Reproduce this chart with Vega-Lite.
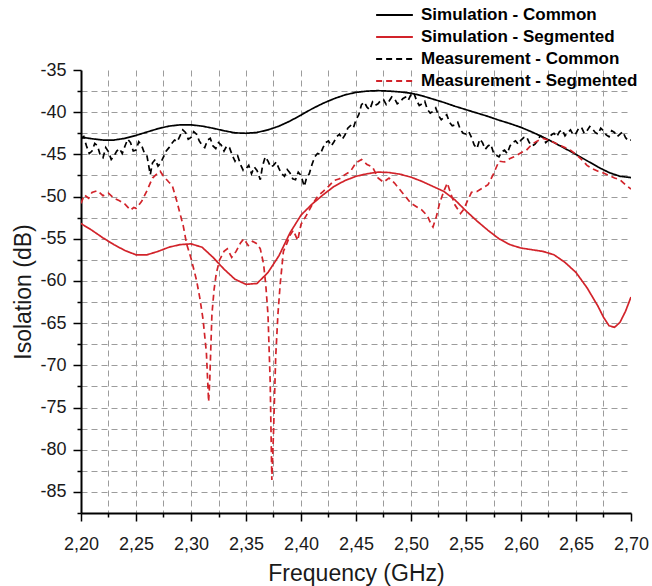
{
  "$schema": "https://vega.github.io/schema/vega-lite/v6.json",
  "width": 550,
  "height": 443,
  "autosize": {"type": "none"},
  "padding": {"left": 81, "top": 70, "right": 21, "bottom": 73},
  "config": {
    "view": {"stroke": null},
    "font": "Liberation Sans",
    "axis": {
      "labelFont": "Liberation Sans",
      "titleFont": "Liberation Sans",
      "labelFontSize": 18,
      "titleFontSize": 23,
      "titleFontWeight": "normal",
      "labelColor": "#1a1a1a",
      "titleColor": "#1a1a1a",
      "domainColor": "#000000",
      "domainWidth": 2,
      "tickColor": "#000000",
      "tickWidth": 1.5,
      "gridColor": "#9c9c9c",
      "gridDash": [6, 4],
      "gridWidth": 1
    }
  },
  "data": {
    "values": [
      {"s": "Simulation - Common", "f": 2.20, "v": -42.95},
      {"s": "Simulation - Common", "f": 2.21, "v": -43.15},
      {"s": "Simulation - Common", "f": 2.22, "v": -43.3},
      {"s": "Simulation - Common", "f": 2.23, "v": -43.3},
      {"s": "Simulation - Common", "f": 2.24, "v": -43.1},
      {"s": "Simulation - Common", "f": 2.25, "v": -42.75},
      {"s": "Simulation - Common", "f": 2.26, "v": -42.35},
      {"s": "Simulation - Common", "f": 2.27, "v": -41.95},
      {"s": "Simulation - Common", "f": 2.28, "v": -41.65},
      {"s": "Simulation - Common", "f": 2.29, "v": -41.5},
      {"s": "Simulation - Common", "f": 2.30, "v": -41.5},
      {"s": "Simulation - Common", "f": 2.31, "v": -41.65},
      {"s": "Simulation - Common", "f": 2.32, "v": -41.9},
      {"s": "Simulation - Common", "f": 2.33, "v": -42.2},
      {"s": "Simulation - Common", "f": 2.34, "v": -42.45},
      {"s": "Simulation - Common", "f": 2.35, "v": -42.5},
      {"s": "Simulation - Common", "f": 2.36, "v": -42.4},
      {"s": "Simulation - Common", "f": 2.37, "v": -42.1},
      {"s": "Simulation - Common", "f": 2.38, "v": -41.65},
      {"s": "Simulation - Common", "f": 2.39, "v": -41.05},
      {"s": "Simulation - Common", "f": 2.40, "v": -40.35},
      {"s": "Simulation - Common", "f": 2.41, "v": -39.6},
      {"s": "Simulation - Common", "f": 2.42, "v": -38.95},
      {"s": "Simulation - Common", "f": 2.43, "v": -38.4},
      {"s": "Simulation - Common", "f": 2.44, "v": -37.95},
      {"s": "Simulation - Common", "f": 2.45, "v": -37.65},
      {"s": "Simulation - Common", "f": 2.46, "v": -37.5},
      {"s": "Simulation - Common", "f": 2.47, "v": -37.45},
      {"s": "Simulation - Common", "f": 2.48, "v": -37.5},
      {"s": "Simulation - Common", "f": 2.49, "v": -37.6},
      {"s": "Simulation - Common", "f": 2.50, "v": -37.75},
      {"s": "Simulation - Common", "f": 2.51, "v": -38.05},
      {"s": "Simulation - Common", "f": 2.52, "v": -38.45},
      {"s": "Simulation - Common", "f": 2.53, "v": -38.85},
      {"s": "Simulation - Common", "f": 2.54, "v": -39.3},
      {"s": "Simulation - Common", "f": 2.55, "v": -39.7},
      {"s": "Simulation - Common", "f": 2.56, "v": -40.1},
      {"s": "Simulation - Common", "f": 2.57, "v": -40.5},
      {"s": "Simulation - Common", "f": 2.58, "v": -40.95},
      {"s": "Simulation - Common", "f": 2.59, "v": -41.35},
      {"s": "Simulation - Common", "f": 2.60, "v": -41.8},
      {"s": "Simulation - Common", "f": 2.61, "v": -42.35},
      {"s": "Simulation - Common", "f": 2.62, "v": -42.95},
      {"s": "Simulation - Common", "f": 2.63, "v": -43.6},
      {"s": "Simulation - Common", "f": 2.64, "v": -44.3},
      {"s": "Simulation - Common", "f": 2.65, "v": -45.0},
      {"s": "Simulation - Common", "f": 2.66, "v": -45.75},
      {"s": "Simulation - Common", "f": 2.67, "v": -46.5},
      {"s": "Simulation - Common", "f": 2.68, "v": -47.15},
      {"s": "Simulation - Common", "f": 2.69, "v": -47.6},
      {"s": "Simulation - Common", "f": 2.70, "v": -47.75},

      {"s": "Simulation - Segmented", "f": 2.20, "v": -53.2},
      {"s": "Simulation - Segmented", "f": 2.21, "v": -54.0},
      {"s": "Simulation - Segmented", "f": 2.22, "v": -54.9},
      {"s": "Simulation - Segmented", "f": 2.23, "v": -55.7},
      {"s": "Simulation - Segmented", "f": 2.24, "v": -56.4},
      {"s": "Simulation - Segmented", "f": 2.25, "v": -56.9},
      {"s": "Simulation - Segmented", "f": 2.26, "v": -56.9},
      {"s": "Simulation - Segmented", "f": 2.27, "v": -56.5},
      {"s": "Simulation - Segmented", "f": 2.28, "v": -56.0},
      {"s": "Simulation - Segmented", "f": 2.29, "v": -55.7},
      {"s": "Simulation - Segmented", "f": 2.30, "v": -55.6},
      {"s": "Simulation - Segmented", "f": 2.31, "v": -56.0},
      {"s": "Simulation - Segmented", "f": 2.32, "v": -57.2},
      {"s": "Simulation - Segmented", "f": 2.33, "v": -58.6},
      {"s": "Simulation - Segmented", "f": 2.34, "v": -59.8},
      {"s": "Simulation - Segmented", "f": 2.35, "v": -60.4},
      {"s": "Simulation - Segmented", "f": 2.36, "v": -60.3},
      {"s": "Simulation - Segmented", "f": 2.37, "v": -59.0},
      {"s": "Simulation - Segmented", "f": 2.38, "v": -57.0},
      {"s": "Simulation - Segmented", "f": 2.39, "v": -54.3},
      {"s": "Simulation - Segmented", "f": 2.40, "v": -52.2},
      {"s": "Simulation - Segmented", "f": 2.41, "v": -50.9},
      {"s": "Simulation - Segmented", "f": 2.42, "v": -49.8},
      {"s": "Simulation - Segmented", "f": 2.43, "v": -48.8},
      {"s": "Simulation - Segmented", "f": 2.44, "v": -48.1},
      {"s": "Simulation - Segmented", "f": 2.45, "v": -47.6},
      {"s": "Simulation - Segmented", "f": 2.46, "v": -47.3},
      {"s": "Simulation - Segmented", "f": 2.47, "v": -47.1},
      {"s": "Simulation - Segmented", "f": 2.48, "v": -47.15},
      {"s": "Simulation - Segmented", "f": 2.49, "v": -47.35},
      {"s": "Simulation - Segmented", "f": 2.50, "v": -47.7},
      {"s": "Simulation - Segmented", "f": 2.51, "v": -48.2},
      {"s": "Simulation - Segmented", "f": 2.52, "v": -48.8},
      {"s": "Simulation - Segmented", "f": 2.53, "v": -49.4},
      {"s": "Simulation - Segmented", "f": 2.54, "v": -50.4},
      {"s": "Simulation - Segmented", "f": 2.55, "v": -51.7},
      {"s": "Simulation - Segmented", "f": 2.56, "v": -52.9},
      {"s": "Simulation - Segmented", "f": 2.57, "v": -54.0},
      {"s": "Simulation - Segmented", "f": 2.58, "v": -55.0},
      {"s": "Simulation - Segmented", "f": 2.59, "v": -55.7},
      {"s": "Simulation - Segmented", "f": 2.60, "v": -56.1},
      {"s": "Simulation - Segmented", "f": 2.61, "v": -56.3},
      {"s": "Simulation - Segmented", "f": 2.62, "v": -56.5},
      {"s": "Simulation - Segmented", "f": 2.63, "v": -56.9},
      {"s": "Simulation - Segmented", "f": 2.64, "v": -57.8},
      {"s": "Simulation - Segmented", "f": 2.65, "v": -59.0},
      {"s": "Simulation - Segmented", "f": 2.66, "v": -60.8},
      {"s": "Simulation - Segmented", "f": 2.67, "v": -63.0},
      {"s": "Simulation - Segmented", "f": 2.675, "v": -64.3},
      {"s": "Simulation - Segmented", "f": 2.68, "v": -65.3},
      {"s": "Simulation - Segmented", "f": 2.685, "v": -65.5},
      {"s": "Simulation - Segmented", "f": 2.69, "v": -64.9},
      {"s": "Simulation - Segmented", "f": 2.695, "v": -63.6},
      {"s": "Simulation - Segmented", "f": 2.70, "v": -61.9},

      {"s": "Measurement - Common", "f": 2.200, "v": -43.2},
      {"s": "Measurement - Common", "f": 2.205, "v": -44.0},
      {"s": "Measurement - Common", "f": 2.210, "v": -44.6},
      {"s": "Measurement - Common", "f": 2.215, "v": -44.0},
      {"s": "Measurement - Common", "f": 2.220, "v": -45.4},
      {"s": "Measurement - Common", "f": 2.225, "v": -44.7},
      {"s": "Measurement - Common", "f": 2.230, "v": -45.2},
      {"s": "Measurement - Common", "f": 2.235, "v": -44.3},
      {"s": "Measurement - Common", "f": 2.240, "v": -44.0},
      {"s": "Measurement - Common", "f": 2.245, "v": -43.6},
      {"s": "Measurement - Common", "f": 2.250, "v": -44.5},
      {"s": "Measurement - Common", "f": 2.255, "v": -43.9},
      {"s": "Measurement - Common", "f": 2.260, "v": -45.2},
      {"s": "Measurement - Common", "f": 2.263, "v": -47.4},
      {"s": "Measurement - Common", "f": 2.265, "v": -46.0},
      {"s": "Measurement - Common", "f": 2.270, "v": -46.4},
      {"s": "Measurement - Common", "f": 2.275, "v": -45.3},
      {"s": "Measurement - Common", "f": 2.280, "v": -44.2},
      {"s": "Measurement - Common", "f": 2.285, "v": -43.3},
      {"s": "Measurement - Common", "f": 2.290, "v": -42.8},
      {"s": "Measurement - Common", "f": 2.295, "v": -42.4},
      {"s": "Measurement - Common", "f": 2.300, "v": -43.0},
      {"s": "Measurement - Common", "f": 2.305, "v": -42.6},
      {"s": "Measurement - Common", "f": 2.310, "v": -43.9},
      {"s": "Measurement - Common", "f": 2.315, "v": -43.3},
      {"s": "Measurement - Common", "f": 2.320, "v": -44.0},
      {"s": "Measurement - Common", "f": 2.325, "v": -43.6},
      {"s": "Measurement - Common", "f": 2.330, "v": -44.6},
      {"s": "Measurement - Common", "f": 2.335, "v": -44.2},
      {"s": "Measurement - Common", "f": 2.340, "v": -45.8},
      {"s": "Measurement - Common", "f": 2.345, "v": -46.2},
      {"s": "Measurement - Common", "f": 2.350, "v": -46.7},
      {"s": "Measurement - Common", "f": 2.355, "v": -47.3},
      {"s": "Measurement - Common", "f": 2.360, "v": -46.9},
      {"s": "Measurement - Common", "f": 2.363, "v": -48.0},
      {"s": "Measurement - Common", "f": 2.365, "v": -46.4},
      {"s": "Measurement - Common", "f": 2.370, "v": -45.8},
      {"s": "Measurement - Common", "f": 2.375, "v": -46.3},
      {"s": "Measurement - Common", "f": 2.380, "v": -46.7},
      {"s": "Measurement - Common", "f": 2.385, "v": -47.6},
      {"s": "Measurement - Common", "f": 2.390, "v": -47.2},
      {"s": "Measurement - Common", "f": 2.395, "v": -48.0},
      {"s": "Measurement - Common", "f": 2.400, "v": -47.5},
      {"s": "Measurement - Common", "f": 2.403, "v": -48.8},
      {"s": "Measurement - Common", "f": 2.405, "v": -47.8},
      {"s": "Measurement - Common", "f": 2.410, "v": -46.2},
      {"s": "Measurement - Common", "f": 2.415, "v": -44.9},
      {"s": "Measurement - Common", "f": 2.420, "v": -44.2},
      {"s": "Measurement - Common", "f": 2.425, "v": -43.4},
      {"s": "Measurement - Common", "f": 2.430, "v": -43.5},
      {"s": "Measurement - Common", "f": 2.435, "v": -42.6},
      {"s": "Measurement - Common", "f": 2.440, "v": -42.7},
      {"s": "Measurement - Common", "f": 2.445, "v": -41.6},
      {"s": "Measurement - Common", "f": 2.450, "v": -40.9},
      {"s": "Measurement - Common", "f": 2.455, "v": -39.1},
      {"s": "Measurement - Common", "f": 2.460, "v": -39.4},
      {"s": "Measurement - Common", "f": 2.465, "v": -38.8},
      {"s": "Measurement - Common", "f": 2.470, "v": -39.0},
      {"s": "Measurement - Common", "f": 2.475, "v": -38.5},
      {"s": "Measurement - Common", "f": 2.480, "v": -38.7},
      {"s": "Measurement - Common", "f": 2.485, "v": -38.4},
      {"s": "Measurement - Common", "f": 2.490, "v": -38.8},
      {"s": "Measurement - Common", "f": 2.495, "v": -38.2},
      {"s": "Measurement - Common", "f": 2.500, "v": -37.9},
      {"s": "Measurement - Common", "f": 2.505, "v": -38.6},
      {"s": "Measurement - Common", "f": 2.510, "v": -39.0},
      {"s": "Measurement - Common", "f": 2.515, "v": -39.7},
      {"s": "Measurement - Common", "f": 2.520, "v": -39.9},
      {"s": "Measurement - Common", "f": 2.525, "v": -40.4},
      {"s": "Measurement - Common", "f": 2.530, "v": -40.6},
      {"s": "Measurement - Common", "f": 2.535, "v": -41.2},
      {"s": "Measurement - Common", "f": 2.540, "v": -41.5},
      {"s": "Measurement - Common", "f": 2.545, "v": -42.1},
      {"s": "Measurement - Common", "f": 2.550, "v": -42.6},
      {"s": "Measurement - Common", "f": 2.555, "v": -43.0},
      {"s": "Measurement - Common", "f": 2.560, "v": -44.3},
      {"s": "Measurement - Common", "f": 2.565, "v": -43.6},
      {"s": "Measurement - Common", "f": 2.570, "v": -44.0},
      {"s": "Measurement - Common", "f": 2.575, "v": -44.8},
      {"s": "Measurement - Common", "f": 2.580, "v": -45.3},
      {"s": "Measurement - Common", "f": 2.585, "v": -44.5},
      {"s": "Measurement - Common", "f": 2.590, "v": -44.0},
      {"s": "Measurement - Common", "f": 2.595, "v": -43.4},
      {"s": "Measurement - Common", "f": 2.600, "v": -43.3},
      {"s": "Measurement - Common", "f": 2.605, "v": -42.9},
      {"s": "Measurement - Common", "f": 2.610, "v": -44.0},
      {"s": "Measurement - Common", "f": 2.615, "v": -43.4},
      {"s": "Measurement - Common", "f": 2.620, "v": -43.0},
      {"s": "Measurement - Common", "f": 2.625, "v": -43.3},
      {"s": "Measurement - Common", "f": 2.630, "v": -42.5},
      {"s": "Measurement - Common", "f": 2.635, "v": -42.3},
      {"s": "Measurement - Common", "f": 2.640, "v": -42.8},
      {"s": "Measurement - Common", "f": 2.645, "v": -42.1},
      {"s": "Measurement - Common", "f": 2.650, "v": -42.5},
      {"s": "Measurement - Common", "f": 2.655, "v": -41.8},
      {"s": "Measurement - Common", "f": 2.660, "v": -42.2},
      {"s": "Measurement - Common", "f": 2.665, "v": -42.0},
      {"s": "Measurement - Common", "f": 2.670, "v": -42.6},
      {"s": "Measurement - Common", "f": 2.675, "v": -42.2},
      {"s": "Measurement - Common", "f": 2.680, "v": -42.9},
      {"s": "Measurement - Common", "f": 2.685, "v": -42.4},
      {"s": "Measurement - Common", "f": 2.690, "v": -42.6},
      {"s": "Measurement - Common", "f": 2.695, "v": -43.0},
      {"s": "Measurement - Common", "f": 2.700, "v": -43.3},
      {"s": "Measurement - Common", "f": 2.2025, "v": -42.9},
      {"s": "Measurement - Common", "f": 2.2075, "v": -44.9},
      {"s": "Measurement - Common", "f": 2.2125, "v": -43.7},
      {"s": "Measurement - Common", "f": 2.2175, "v": -45.1},
      {"s": "Measurement - Common", "f": 2.2225, "v": -44.2},
      {"s": "Measurement - Common", "f": 2.2275, "v": -45.6},
      {"s": "Measurement - Common", "f": 2.2325, "v": -44.6},
      {"s": "Measurement - Common", "f": 2.2375, "v": -44.9},
      {"s": "Measurement - Common", "f": 2.2425, "v": -43.2},
      {"s": "Measurement - Common", "f": 2.2475, "v": -44.6},
      {"s": "Measurement - Common", "f": 2.2525, "v": -43.5},
      {"s": "Measurement - Common", "f": 2.2575, "v": -44.8},
      {"s": "Measurement - Common", "f": 2.2675, "v": -45.6},
      {"s": "Measurement - Common", "f": 2.2725, "v": -46.0},
      {"s": "Measurement - Common", "f": 2.2775, "v": -44.6},
      {"s": "Measurement - Common", "f": 2.2825, "v": -43.7},
      {"s": "Measurement - Common", "f": 2.2875, "v": -43.5},
      {"s": "Measurement - Common", "f": 2.2925, "v": -42.1},
      {"s": "Measurement - Common", "f": 2.2975, "v": -43.2},
      {"s": "Measurement - Common", "f": 2.3025, "v": -42.3},
      {"s": "Measurement - Common", "f": 2.3075, "v": -43.4},
      {"s": "Measurement - Common", "f": 2.3125, "v": -44.2},
      {"s": "Measurement - Common", "f": 2.3175, "v": -43.1},
      {"s": "Measurement - Common", "f": 2.3225, "v": -44.3},
      {"s": "Measurement - Common", "f": 2.3275, "v": -43.9},
      {"s": "Measurement - Common", "f": 2.3325, "v": -44.0},
      {"s": "Measurement - Common", "f": 2.3375, "v": -45.1},
      {"s": "Measurement - Common", "f": 2.3425, "v": -45.2},
      {"s": "Measurement - Common", "f": 2.3475, "v": -46.9},
      {"s": "Measurement - Common", "f": 2.3525, "v": -46.3},
      {"s": "Measurement - Common", "f": 2.3575, "v": -46.5},
      {"s": "Measurement - Common", "f": 2.3675, "v": -45.3},
      {"s": "Measurement - Common", "f": 2.3725, "v": -46.5},
      {"s": "Measurement - Common", "f": 2.3775, "v": -45.9},
      {"s": "Measurement - Common", "f": 2.3825, "v": -47.3},
      {"s": "Measurement - Common", "f": 2.3875, "v": -46.8},
      {"s": "Measurement - Common", "f": 2.3925, "v": -47.9},
      {"s": "Measurement - Common", "f": 2.3975, "v": -47.1},
      {"s": "Measurement - Common", "f": 2.4075, "v": -47.3},
      {"s": "Measurement - Common", "f": 2.4125, "v": -45.3},
      {"s": "Measurement - Common", "f": 2.4175, "v": -45.0},
      {"s": "Measurement - Common", "f": 2.4225, "v": -43.6},
      {"s": "Measurement - Common", "f": 2.4275, "v": -44.0},
      {"s": "Measurement - Common", "f": 2.4325, "v": -42.9},
      {"s": "Measurement - Common", "f": 2.4375, "v": -43.2},
      {"s": "Measurement - Common", "f": 2.4425, "v": -41.9},
      {"s": "Measurement - Common", "f": 2.4475, "v": -41.9},
      {"s": "Measurement - Common", "f": 2.4525, "v": -40.3},
      {"s": "Measurement - Common", "f": 2.4575, "v": -38.8},
      {"s": "Measurement - Common", "f": 2.4625, "v": -39.7},
      {"s": "Measurement - Common", "f": 2.4675, "v": -39.2},
      {"s": "Measurement - Common", "f": 2.4725, "v": -38.6},
      {"s": "Measurement - Common", "f": 2.4775, "v": -39.1},
      {"s": "Measurement - Common", "f": 2.4825, "v": -38.2},
      {"s": "Measurement - Common", "f": 2.4875, "v": -39.0},
      {"s": "Measurement - Common", "f": 2.4925, "v": -38.4},
      {"s": "Measurement - Common", "f": 2.4975, "v": -38.6},
      {"s": "Measurement - Common", "f": 2.5025, "v": -37.7},
      {"s": "Measurement - Common", "f": 2.5075, "v": -39.2},
      {"s": "Measurement - Common", "f": 2.5125, "v": -38.7},
      {"s": "Measurement - Common", "f": 2.5175, "v": -40.1},
      {"s": "Measurement - Common", "f": 2.5225, "v": -39.5},
      {"s": "Measurement - Common", "f": 2.5275, "v": -40.9},
      {"s": "Measurement - Common", "f": 2.5325, "v": -40.3},
      {"s": "Measurement - Common", "f": 2.5375, "v": -41.6},
      {"s": "Measurement - Common", "f": 2.5425, "v": -41.2},
      {"s": "Measurement - Common", "f": 2.5475, "v": -42.5},
      {"s": "Measurement - Common", "f": 2.5525, "v": -42.3},
      {"s": "Measurement - Common", "f": 2.5575, "v": -43.9},
      {"s": "Measurement - Common", "f": 2.5625, "v": -43.2},
      {"s": "Measurement - Common", "f": 2.5675, "v": -44.4},
      {"s": "Measurement - Common", "f": 2.5725, "v": -43.8},
      {"s": "Measurement - Common", "f": 2.5775, "v": -45.1},
      {"s": "Measurement - Common", "f": 2.5825, "v": -44.7},
      {"s": "Measurement - Common", "f": 2.5875, "v": -44.9},
      {"s": "Measurement - Common", "f": 2.5925, "v": -43.6},
      {"s": "Measurement - Common", "f": 2.5975, "v": -43.8},
      {"s": "Measurement - Common", "f": 2.6025, "v": -43.0},
      {"s": "Measurement - Common", "f": 2.6075, "v": -43.6},
      {"s": "Measurement - Common", "f": 2.6125, "v": -43.8},
      {"s": "Measurement - Common", "f": 2.6175, "v": -42.8},
      {"s": "Measurement - Common", "f": 2.6225, "v": -43.6},
      {"s": "Measurement - Common", "f": 2.6275, "v": -42.7},
      {"s": "Measurement - Common", "f": 2.6325, "v": -42.9},
      {"s": "Measurement - Common", "f": 2.6375, "v": -42.1},
      {"s": "Measurement - Common", "f": 2.6425, "v": -42.4},
      {"s": "Measurement - Common", "f": 2.6475, "v": -42.7},
      {"s": "Measurement - Common", "f": 2.6525, "v": -41.9},
      {"s": "Measurement - Common", "f": 2.6575, "v": -42.5},
      {"s": "Measurement - Common", "f": 2.6625, "v": -41.7},
      {"s": "Measurement - Common", "f": 2.6675, "v": -42.4},
      {"s": "Measurement - Common", "f": 2.6725, "v": -41.9},
      {"s": "Measurement - Common", "f": 2.6775, "v": -42.7},
      {"s": "Measurement - Common", "f": 2.6825, "v": -42.2},
      {"s": "Measurement - Common", "f": 2.6875, "v": -42.9},
      {"s": "Measurement - Common", "f": 2.6925, "v": -42.3},
      {"s": "Measurement - Common", "f": 2.6975, "v": -43.4},

      {"s": "Measurement - Segmented", "f": 2.200, "v": -50.8},
      {"s": "Measurement - Segmented", "f": 2.203, "v": -49.8},
      {"s": "Measurement - Segmented", "f": 2.207, "v": -50.2},
      {"s": "Measurement - Segmented", "f": 2.210, "v": -49.5},
      {"s": "Measurement - Segmented", "f": 2.215, "v": -49.3},
      {"s": "Measurement - Segmented", "f": 2.220, "v": -49.9},
      {"s": "Measurement - Segmented", "f": 2.225, "v": -49.6},
      {"s": "Measurement - Segmented", "f": 2.230, "v": -50.2},
      {"s": "Measurement - Segmented", "f": 2.235, "v": -50.5},
      {"s": "Measurement - Segmented", "f": 2.240, "v": -50.9},
      {"s": "Measurement - Segmented", "f": 2.245, "v": -51.6},
      {"s": "Measurement - Segmented", "f": 2.248, "v": -51.3},
      {"s": "Measurement - Segmented", "f": 2.250, "v": -51.4},
      {"s": "Measurement - Segmented", "f": 2.255, "v": -50.6},
      {"s": "Measurement - Segmented", "f": 2.260, "v": -49.3},
      {"s": "Measurement - Segmented", "f": 2.265, "v": -47.8},
      {"s": "Measurement - Segmented", "f": 2.270, "v": -47.2},
      {"s": "Measurement - Segmented", "f": 2.272, "v": -47.0},
      {"s": "Measurement - Segmented", "f": 2.275, "v": -47.6},
      {"s": "Measurement - Segmented", "f": 2.280, "v": -48.3},
      {"s": "Measurement - Segmented", "f": 2.283, "v": -48.7},
      {"s": "Measurement - Segmented", "f": 2.287, "v": -50.5},
      {"s": "Measurement - Segmented", "f": 2.290, "v": -52.0},
      {"s": "Measurement - Segmented", "f": 2.293, "v": -53.5},
      {"s": "Measurement - Segmented", "f": 2.296, "v": -55.6},
      {"s": "Measurement - Segmented", "f": 2.300, "v": -57.3},
      {"s": "Measurement - Segmented", "f": 2.305, "v": -59.9},
      {"s": "Measurement - Segmented", "f": 2.308, "v": -62.0},
      {"s": "Measurement - Segmented", "f": 2.311, "v": -64.6},
      {"s": "Measurement - Segmented", "f": 2.314, "v": -68.5},
      {"s": "Measurement - Segmented", "f": 2.316, "v": -74.3},
      {"s": "Measurement - Segmented", "f": 2.317, "v": -72.0},
      {"s": "Measurement - Segmented", "f": 2.319, "v": -64.0},
      {"s": "Measurement - Segmented", "f": 2.321, "v": -61.0},
      {"s": "Measurement - Segmented", "f": 2.323, "v": -59.1},
      {"s": "Measurement - Segmented", "f": 2.326, "v": -57.5},
      {"s": "Measurement - Segmented", "f": 2.330, "v": -56.5},
      {"s": "Measurement - Segmented", "f": 2.333, "v": -56.2},
      {"s": "Measurement - Segmented", "f": 2.337, "v": -57.2},
      {"s": "Measurement - Segmented", "f": 2.341, "v": -56.5},
      {"s": "Measurement - Segmented", "f": 2.345, "v": -55.5},
      {"s": "Measurement - Segmented", "f": 2.348, "v": -55.0},
      {"s": "Measurement - Segmented", "f": 2.352, "v": -55.8},
      {"s": "Measurement - Segmented", "f": 2.356, "v": -55.3},
      {"s": "Measurement - Segmented", "f": 2.360, "v": -55.6},
      {"s": "Measurement - Segmented", "f": 2.363, "v": -56.2},
      {"s": "Measurement - Segmented", "f": 2.366, "v": -58.0},
      {"s": "Measurement - Segmented", "f": 2.368, "v": -60.5},
      {"s": "Measurement - Segmented", "f": 2.370, "v": -64.0},
      {"s": "Measurement - Segmented", "f": 2.372, "v": -72.0},
      {"s": "Measurement - Segmented", "f": 2.3735, "v": -83.6},
      {"s": "Measurement - Segmented", "f": 2.375, "v": -78.0},
      {"s": "Measurement - Segmented", "f": 2.377, "v": -69.0},
      {"s": "Measurement - Segmented", "f": 2.379, "v": -64.0},
      {"s": "Measurement - Segmented", "f": 2.381, "v": -60.5},
      {"s": "Measurement - Segmented", "f": 2.384, "v": -56.5},
      {"s": "Measurement - Segmented", "f": 2.387, "v": -55.6},
      {"s": "Measurement - Segmented", "f": 2.390, "v": -54.6},
      {"s": "Measurement - Segmented", "f": 2.393, "v": -54.0},
      {"s": "Measurement - Segmented", "f": 2.397, "v": -55.2},
      {"s": "Measurement - Segmented", "f": 2.400, "v": -53.3},
      {"s": "Measurement - Segmented", "f": 2.405, "v": -52.2},
      {"s": "Measurement - Segmented", "f": 2.410, "v": -51.0},
      {"s": "Measurement - Segmented", "f": 2.415, "v": -50.0},
      {"s": "Measurement - Segmented", "f": 2.420, "v": -49.4},
      {"s": "Measurement - Segmented", "f": 2.425, "v": -48.8},
      {"s": "Measurement - Segmented", "f": 2.430, "v": -48.1},
      {"s": "Measurement - Segmented", "f": 2.435, "v": -47.9},
      {"s": "Measurement - Segmented", "f": 2.440, "v": -47.4},
      {"s": "Measurement - Segmented", "f": 2.445, "v": -47.0},
      {"s": "Measurement - Segmented", "f": 2.450, "v": -46.0},
      {"s": "Measurement - Segmented", "f": 2.455, "v": -45.6},
      {"s": "Measurement - Segmented", "f": 2.460, "v": -46.2},
      {"s": "Measurement - Segmented", "f": 2.465, "v": -46.5},
      {"s": "Measurement - Segmented", "f": 2.470, "v": -47.8},
      {"s": "Measurement - Segmented", "f": 2.475, "v": -48.3},
      {"s": "Measurement - Segmented", "f": 2.480, "v": -47.8},
      {"s": "Measurement - Segmented", "f": 2.485, "v": -48.4},
      {"s": "Measurement - Segmented", "f": 2.490, "v": -49.2},
      {"s": "Measurement - Segmented", "f": 2.495, "v": -50.0},
      {"s": "Measurement - Segmented", "f": 2.500, "v": -50.8},
      {"s": "Measurement - Segmented", "f": 2.505, "v": -51.2},
      {"s": "Measurement - Segmented", "f": 2.510, "v": -51.6},
      {"s": "Measurement - Segmented", "f": 2.515, "v": -52.3},
      {"s": "Measurement - Segmented", "f": 2.518, "v": -53.2},
      {"s": "Measurement - Segmented", "f": 2.520, "v": -53.6},
      {"s": "Measurement - Segmented", "f": 2.523, "v": -52.4},
      {"s": "Measurement - Segmented", "f": 2.526, "v": -50.8},
      {"s": "Measurement - Segmented", "f": 2.530, "v": -49.3},
      {"s": "Measurement - Segmented", "f": 2.533, "v": -48.4},
      {"s": "Measurement - Segmented", "f": 2.536, "v": -49.6},
      {"s": "Measurement - Segmented", "f": 2.540, "v": -51.0},
      {"s": "Measurement - Segmented", "f": 2.545, "v": -52.0},
      {"s": "Measurement - Segmented", "f": 2.548, "v": -51.5},
      {"s": "Measurement - Segmented", "f": 2.551, "v": -50.6},
      {"s": "Measurement - Segmented", "f": 2.555, "v": -49.5},
      {"s": "Measurement - Segmented", "f": 2.560, "v": -49.4},
      {"s": "Measurement - Segmented", "f": 2.565, "v": -49.0},
      {"s": "Measurement - Segmented", "f": 2.570, "v": -48.6},
      {"s": "Measurement - Segmented", "f": 2.575, "v": -47.3},
      {"s": "Measurement - Segmented", "f": 2.580, "v": -45.8},
      {"s": "Measurement - Segmented", "f": 2.585, "v": -45.9},
      {"s": "Measurement - Segmented", "f": 2.590, "v": -45.5},
      {"s": "Measurement - Segmented", "f": 2.595, "v": -45.2},
      {"s": "Measurement - Segmented", "f": 2.600, "v": -44.8},
      {"s": "Measurement - Segmented", "f": 2.605, "v": -44.5},
      {"s": "Measurement - Segmented", "f": 2.610, "v": -43.8},
      {"s": "Measurement - Segmented", "f": 2.615, "v": -43.4},
      {"s": "Measurement - Segmented", "f": 2.620, "v": -43.1},
      {"s": "Measurement - Segmented", "f": 2.625, "v": -43.3},
      {"s": "Measurement - Segmented", "f": 2.630, "v": -43.6},
      {"s": "Measurement - Segmented", "f": 2.635, "v": -43.9},
      {"s": "Measurement - Segmented", "f": 2.640, "v": -44.2},
      {"s": "Measurement - Segmented", "f": 2.645, "v": -44.5},
      {"s": "Measurement - Segmented", "f": 2.650, "v": -45.0},
      {"s": "Measurement - Segmented", "f": 2.655, "v": -45.6},
      {"s": "Measurement - Segmented", "f": 2.660, "v": -46.3},
      {"s": "Measurement - Segmented", "f": 2.665, "v": -46.7},
      {"s": "Measurement - Segmented", "f": 2.670, "v": -47.0},
      {"s": "Measurement - Segmented", "f": 2.675, "v": -47.2},
      {"s": "Measurement - Segmented", "f": 2.680, "v": -47.5},
      {"s": "Measurement - Segmented", "f": 2.685, "v": -47.8},
      {"s": "Measurement - Segmented", "f": 2.690, "v": -48.0},
      {"s": "Measurement - Segmented", "f": 2.695, "v": -48.6},
      {"s": "Measurement - Segmented", "f": 2.700, "v": -49.1}
    ]
  },
  "mark": {"type": "line", "strokeWidth": 1.7, "clip": true},
  "encoding": {
    "x": {
      "field": "f",
      "type": "quantitative",
      "scale": {"domain": [2.2, 2.7], "nice": false, "zero": false},
      "axis": {
        "title": "Frequency (GHz)",
        "values": [2.2, 2.225, 2.25, 2.275, 2.3, 2.325, 2.35, 2.375, 2.4, 2.425, 2.45, 2.475, 2.5, 2.525, 2.55, 2.575, 2.6, 2.625, 2.65, 2.675, 2.7],
        "labelExpr": "round(datum.value*1000) % 50 == 0 ? replace(format(datum.value, '.2f'), '.', ',') : ''",
        "grid": true,
        "gridOpacity": {"condition": {"test": "datum.value < 2.201 || datum.value > 2.699", "value": 0}, "value": 1},
        "tickSize": {"condition": {"test": "round(datum.value*1000) % 50 == 0", "value": 8}, "value": 4},
        "labelPadding": 14,
        "titlePadding": 9,
        "labelFlush": false,
        "labelOverlap": false
      }
    },
    "y": {
      "field": "v",
      "type": "quantitative",
      "scale": {"domain": [-87.5, -35], "nice": false, "zero": false},
      "axis": {
        "title": "Isolation (dB)",
        "values": [-87.5, -85, -82.5, -80, -77.5, -75, -72.5, -70, -67.5, -65, -62.5, -60, -57.5, -55, -52.5, -50, -47.5, -45, -42.5, -40, -37.5, -35],
        "labelExpr": "datum.value % 5 == 0 ? '' + datum.value : ''",
        "grid": true,
        "gridOpacity": {"condition": {"test": "datum.value < -87 || datum.value > -35.5", "value": 0}, "value": 1},
        "tickSize": {"condition": {"test": "datum.value % 5 == 0", "value": 8}, "value": 4},
        "labelPadding": 7,
        "titlePadding": 4,
        "labelFlush": false,
        "labelOverlap": false
      }
    },
    "color": {
      "field": "s",
      "type": "nominal",
      "scale": {
        "domain": ["Simulation - Common", "Simulation - Segmented", "Measurement - Common", "Measurement - Segmented"],
        "range": ["#000000", "#d2232a", "#000000", "#d2232a"]
      },
      "legend": {
        "title": null,
        "orient": "none",
        "legendX": 305,
        "legendY": -63.5,
        "direction": "vertical",
        "padding": 0,
        "labelFont": "Liberation Sans",
        "labelFontWeight": "bold",
        "labelFontSize": 17,
        "labelColor": "#000000",
        "labelLimit": 400,
        "symbolType": "M-3,0H3",
        "symbolSize": 150,
        "symbolStrokeWidth": 2,
        "labelOffset": 18,
        "rowPadding": 4
      }
    },
    "strokeDash": {
      "field": "s",
      "type": "nominal",
      "scale": {
        "domain": ["Simulation - Common", "Simulation - Segmented", "Measurement - Common", "Measurement - Segmented"],
        "range": [[1, 0], [1, 0], [6, 4], [6, 4]]
      },
      "legend": {
        "title": null,
        "orient": "none",
        "legendX": 305,
        "legendY": -63.5,
        "direction": "vertical",
        "padding": 0,
        "labelFont": "Liberation Sans",
        "labelFontWeight": "bold",
        "labelFontSize": 17,
        "labelColor": "#000000",
        "labelLimit": 400,
        "symbolType": "M-3,0H3",
        "symbolSize": 150,
        "symbolStrokeWidth": 2,
        "labelOffset": 18,
        "rowPadding": 4
      }
    }
  }
}
